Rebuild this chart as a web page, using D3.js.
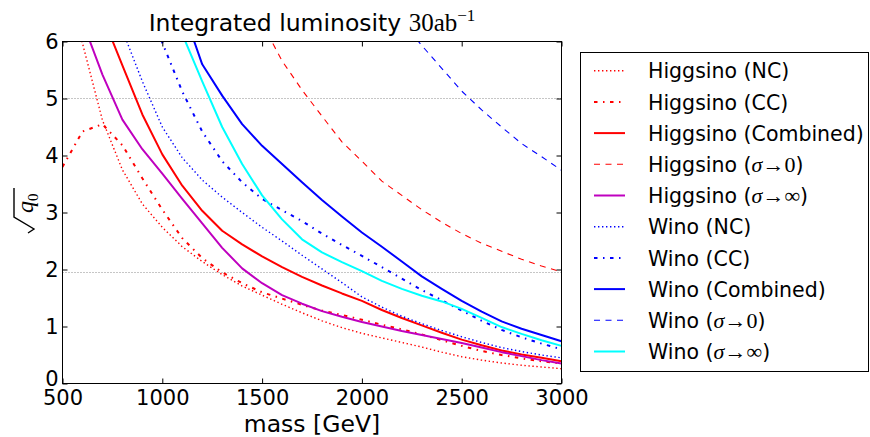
<!DOCTYPE html>
<html>
<head>
<meta charset="utf-8">
<script src="https://cdn.jsdelivr.net/npm/d3@7"></script>
<style>
  body { margin: 0; background: #ffffff; }
  svg { display: block; }
</style>
</head>
<body>
<svg id="chart" width="870" height="437"></svg>
<script>
// ---- data: sqrt(q0) versus mass, 100 GeV steps (null = off the top of the axes) ----
const masses = [500, 600, 700, 800, 900, 1000, 1100, 1200, 1300, 1400, 1500, 1600, 1700,
                1800, 1900, 2000, 2100, 2200, 2300, 2400, 2500, 2600, 2700, 2800, 2900, 3000];

const higgsinoNC   = [7.3, 5.97, 4.62, 3.75, 3.15, 2.74, 2.40, 2.14, 1.91, 1.71, 1.55, 1.39, 1.24,
                      1.10, 0.98, 0.88, 0.80, 0.72, 0.64, 0.55, 0.47, 0.41, 0.36, 0.32, 0.29, 0.26];
const higgsinoCC   = [3.80, 4.42, 4.55, 4.18, 3.60, 3.05, 2.55, 2.20, 1.95, 1.76, 1.60, 1.49, 1.38,
                      1.28, 1.20, 1.12, 1.03, 0.95, 0.86, 0.76, 0.66, 0.57, 0.50, 0.44, 0.39, 0.35];
const higgsinoComb = [null, null, 6.45, 5.58, 4.72, 4.02, 3.47, 3.03, 2.68, 2.44, 2.23, 2.04, 1.87,
                      1.72, 1.58, 1.45, 1.29, 1.15, 1.02, 0.89, 0.77, 0.67, 0.58, 0.51, 0.45, 0.39];
const higgsinoZero = [null, null, null, null, null, null, null, null, null, null, 6.32, 5.66, 5.15,
                      4.69, 4.24, 3.90, 3.55, 3.30, 3.05, 2.83, 2.63, 2.46, 2.32, 2.18, 2.06, 1.96];
const higgsinoInf  = [null, 6.35, 5.42, 4.63, 4.11, 3.68, 3.24, 2.81, 2.38, 2.02, 1.76, 1.55, 1.40,
                      1.27, 1.17, 1.08, 1.00, 0.92, 0.85, 0.78, 0.71, 0.63, 0.55, 0.48, 0.41, 0.35];
const winoNC       = [null, null, null, 6.2, 5.30, 4.50, 3.96, 3.57, 3.27, 3.00, 2.74, 2.50, 2.25,
                      2.01, 1.77, 1.52, 1.34, 1.18, 1.05, 0.93, 0.82, 0.72, 0.63, 0.56, 0.50, 0.45];
const winoCC       = [null, null, null, null, 6.8, 5.98, 5.12, 4.42, 3.90, 3.53, 3.24, 3.04, 2.85,
                      2.63, 2.43, 2.24, 2.04, 1.84, 1.64, 1.46, 1.28, 1.10, 0.94, 0.81, 0.70, 0.60];
const winoComb     = [null, null, null, null, null, null, 6.6, 5.6, 5.05, 4.55, 4.17, 3.85, 3.53,
                      3.22, 2.93, 2.65, 2.40, 2.14, 1.88, 1.66, 1.45, 1.26, 1.09, 0.96, 0.85, 0.74];
const winoZero     = [null, null, null, null, null, null, null, null, null, null, null, null, null,
                      null, null, null, null, 6.35, 5.93, 5.53, 5.13, 4.80, 4.50, 4.21, 3.98, 3.74];
const winoInf      = [null, null, null, null, null, null, 6.13, 5.3, 4.5, 3.85, 3.30, 2.88, 2.53,
                      2.30, 2.13, 1.97, 1.80, 1.66, 1.54, 1.44, 1.31, 1.15, 0.99, 0.87, 0.76, 0.66];

const seriesLabels = ["Higgsino (NC)", "Higgsino (CC)", "Higgsino (Combined)", "Higgsino (σ→0)",
                      "Higgsino (σ→∞)", "Wino (NC)", "Wino (CC)", "Wino (Combined)", "Wino (σ→0)",
                      "Wino (σ→∞)"];
const massTicks = [500, 1000, 1500, 2000, 2500, 3000];
const qTicks = [0, 1, 2, 3, 4, 5, 6];
const refLevels = [5, 1.96];

// ---- line styles ----
const RED = "#ff0000", MAG = "#bf00bf", BLUE = "#0000ff", CYAN = "#00ffff";
const DOT = { w: 1.4, dash: "1.4,2.6" };
const DASHDOT = { w: 2, dash: "3.5,5.5,1.5,5.5" };
const SOLID = { w: 2, dash: null };
const DASH = { w: 1.1, dash: "6,5.5" };

const series = [
  { values: higgsinoNC,   color: RED,  style: DOT },
  { values: higgsinoCC,   color: RED,  style: DASHDOT },
  { values: higgsinoComb, color: RED,  style: SOLID },
  { values: higgsinoZero, color: RED,  style: DASH },
  { values: higgsinoInf,  color: MAG,  style: SOLID },
  { values: winoNC,       color: BLUE, style: DOT },
  { values: winoCC,       color: BLUE, style: DASHDOT },
  { values: winoComb,     color: BLUE, style: SOLID },
  { values: winoZero,     color: BLUE, style: DASH },
  { values: winoInf,      color: CYAN, style: SOLID }
].map((s, i) => ({ ...s, label: seriesLabels[i] }));

// ---- layout ----
const SANS = "DejaVu Sans";
const SERIF = "Liberation Serif, DejaVu Serif, serif";
const plot = { left: 62.5, right: 561.5, top: 41.5, bottom: 383.5 };

const svg = d3.select("#chart");
const x = d3.scaleLinear().domain([500, 3000]).range([plot.left, plot.right]);
const y = d3.scaleLinear().domain([0, 6]).range([plot.bottom, plot.top]);

svg.append("defs").append("clipPath").attr("id", "plotClip")
  .append("rect")
  .attr("x", plot.left).attr("y", plot.top)
  .attr("width", plot.right - plot.left).attr("height", plot.bottom - plot.top);

// reference levels
svg.append("g").selectAll("line").data(refLevels).join("line")
  .attr("x1", plot.left).attr("x2", plot.right)
  .attr("y1", d => Math.round(y(d)) + 0.5).attr("y2", d => Math.round(y(d)) + 0.5)
  .attr("stroke", "#8c8c8c").attr("stroke-width", 1)
  .attr("stroke-dasharray", "1,2");

// curves
const line = d3.line()
  .defined(d => d[1] !== null)
  .x(d => x(d[0]))
  .y(d => y(d[1]));

svg.append("g").attr("clip-path", "url(#plotClip)")
  .selectAll("path").data(series).join("path")
  .attr("d", s => line(masses.map((m, i) => [m, s.values[i]])))
  .attr("fill", "none")
  .attr("stroke", s => s.color)
  .attr("stroke-width", s => s.style.w)
  .attr("stroke-dasharray", s => s.style.dash)
  .attr("stroke-linejoin", "round");

// axes with inward ticks on all four sides
function styleAxis(g) {
  g.select(".domain").remove();
  g.selectAll(".tick line").attr("stroke", "#000").attr("stroke-width", 1);
  g.selectAll("text").attr("font-family", SANS).attr("font-size", 21).attr("fill", "#000");
}
svg.append("g").attr("transform", `translate(0,${plot.bottom})`)
  .call(d3.axisBottom(x).tickValues(massTicks).tickFormat(d3.format("d"))
    .tickSizeInner(-5).tickSizeOuter(0).tickPadding(6.5))
  .call(styleAxis);
svg.append("g").attr("transform", `translate(0,${plot.top})`)
  .call(d3.axisTop(x).tickValues(massTicks).tickFormat("")
    .tickSizeInner(-5).tickSizeOuter(0))
  .call(styleAxis);
const leftAxis = svg.append("g").attr("transform", `translate(${plot.left},0)`)
  .call(d3.axisLeft(y).tickValues(qTicks).tickFormat(d3.format("d"))
    .tickSizeInner(-5).tickSizeOuter(0).tickPadding(4))
  .call(styleAxis);
// the lowest label sits a little above its tick, clear of the mass labels
leftAxis.selectAll(".tick text").filter(d => d === 0).attr("y", -5);
svg.append("g").attr("transform", `translate(${plot.right},0)`)
  .call(d3.axisRight(y).tickValues(qTicks).tickFormat("")
    .tickSizeInner(-5).tickSizeOuter(0))
  .call(styleAxis);

// frame
svg.append("rect")
  .attr("x", plot.left).attr("y", plot.top)
  .attr("width", plot.right - plot.left).attr("height", plot.bottom - plot.top)
  .attr("fill", "none").attr("stroke", "#000").attr("stroke-width", 1);

// title
const title = svg.append("text")
  .attr("x", (plot.left + plot.right) / 2).attr("y", 31)
  .attr("text-anchor", "middle").attr("fill", "#000");
title.append("tspan").attr("font-family", SANS).attr("font-size", 23.5).text("Integrated luminosity ");
title.append("tspan").attr("font-family", SERIF).attr("font-size", 25).text("30ab");
title.append("tspan").attr("font-family", SERIF).attr("font-size", 17).attr("dy", -10).text("−1");

// x label
svg.append("text")
  .attr("x", (plot.left + plot.right) / 2).attr("y", 431.5)
  .attr("text-anchor", "middle")
  .attr("font-family", SANS).attr("font-size", 23.5).attr("fill", "#000")
  .text("mass [GeV]");

// y label: radical sign with q_0, rotated
svg.append("path")
  .attr("d", "M14,188 L14,217 L34,229 L28,233")
  .attr("fill", "none").attr("stroke", "#000").attr("stroke-width", 1.4)
  .attr("stroke-linejoin", "miter");
const ylab = svg.append("text")
  .attr("transform", "translate(33,213) rotate(-90)")
  .attr("font-family", SERIF).attr("fill", "#000");
ylab.append("tspan").attr("font-size", 24).attr("font-style", "italic").text("q");
ylab.append("tspan").attr("font-size", 15).attr("dy", 5).text("0");

// legend
const legend = svg.append("g");
legend.append("rect")
  .attr("x", 580.5).attr("y", 52.5).attr("width", 288).attr("height", 319)
  .attr("fill", "#fff").attr("stroke", "#000").attr("stroke-width", 1);

const rowY = i => 70.7 + i * 31.2;
const rows = legend.selectAll("g.row").data(series).join("g").attr("class", "row");
rows.append("line")
  .attr("x1", 594).attr("x2", 625)
  .attr("y1", (d, i) => rowY(i)).attr("y2", (d, i) => rowY(i))
  .attr("stroke", d => d.color)
  .attr("stroke-width", d => d.style.w)
  .attr("stroke-dasharray", d => d.style.dash);

rows.append("text")
  .attr("x", 648).attr("y", (d, i) => rowY(i) + 7.6)
  .attr("font-family", SANS).attr("font-size", 20.5).attr("fill", "#000")
  .each(function (d) {
    const t = d3.select(this);
    const k = d.label.indexOf("σ");
    if (k < 0) { t.text(d.label); return; }
    t.append("tspan").text(d.label.slice(0, k));
    t.append("tspan").attr("font-family", SERIF).attr("font-style", "italic")
      .attr("font-size", 22).text("σ");
    t.append("tspan").attr("font-family", SERIF).attr("font-size", 22)
      .text(d.label.slice(k + 1, d.label.length - 1));
    t.append("tspan").text(")");
  });
</script>
</body>
</html>
